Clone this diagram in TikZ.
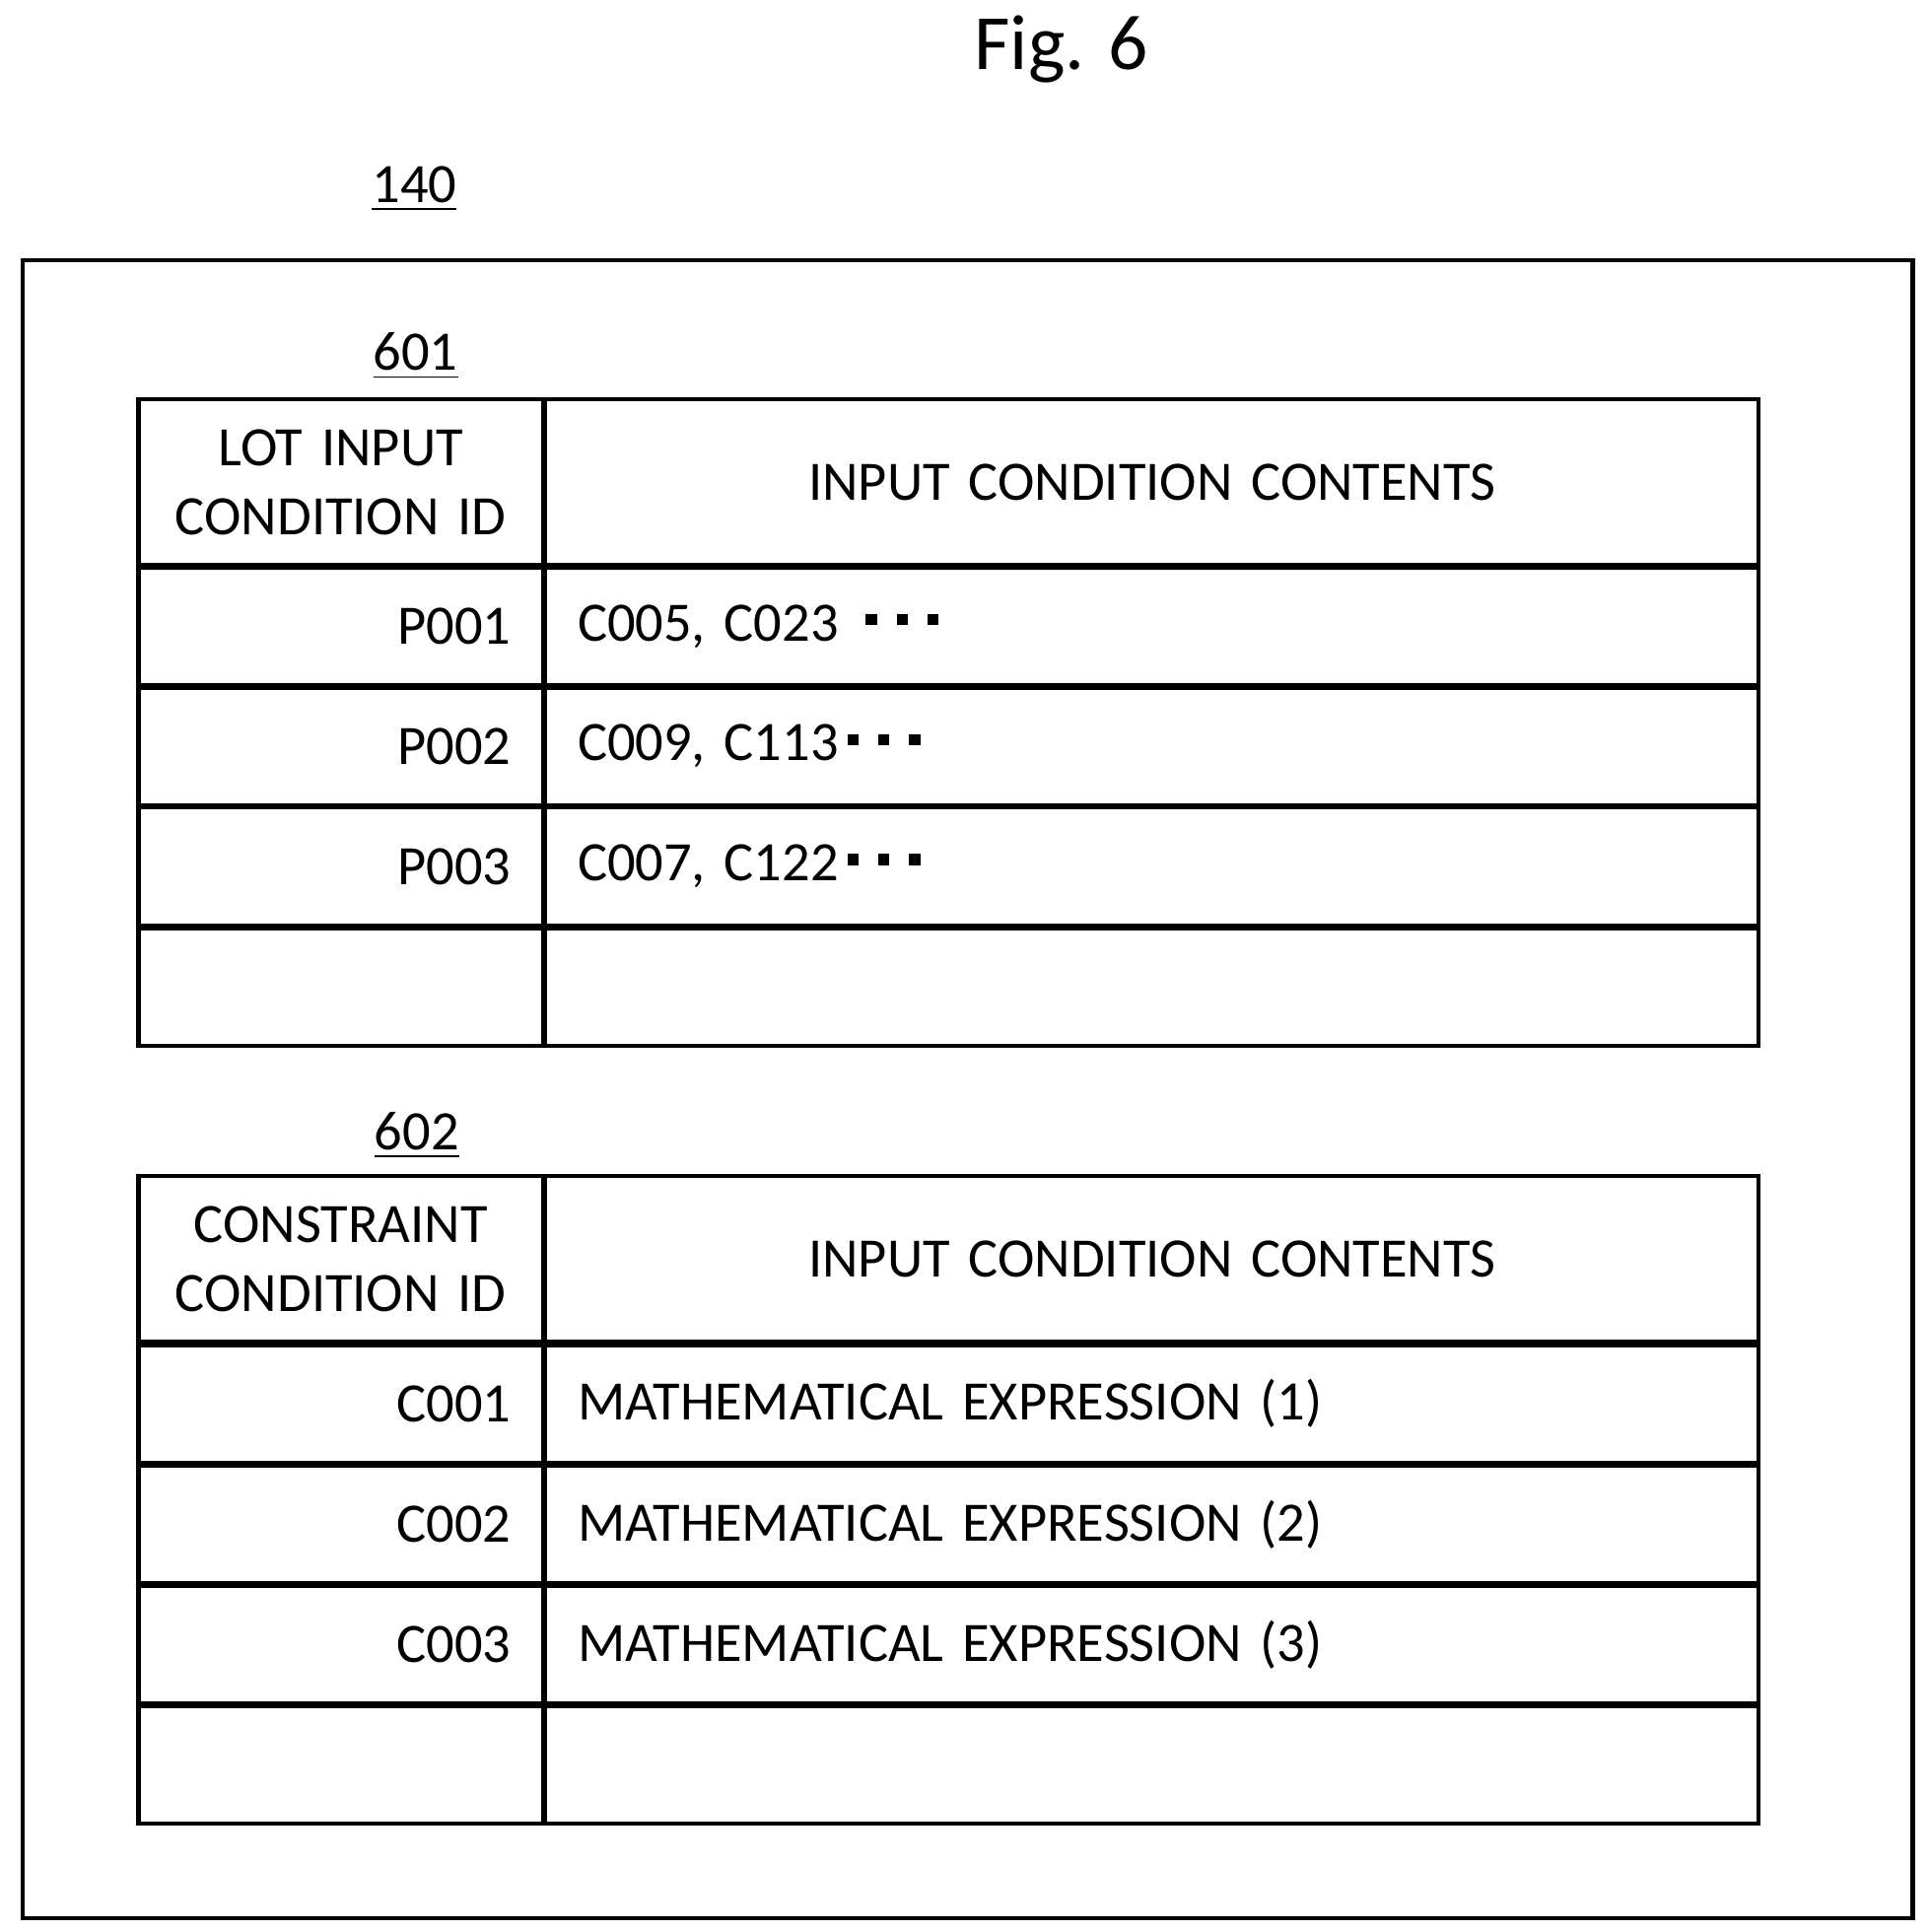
\documentclass[tikz,border=0pt]{standalone}
\usepackage{fontspec}
\setmainfont{Carlito}
\usetikzlibrary{positioning}
\newcommand{\tdot}{\rule[0.28em]{2.6pt}{2.6pt}}
\newcommand{\tdots}{\kern2pt\tdot\kern4.5pt\tdot\kern4.5pt\tdot}

\begin{document}
\begin{tikzpicture}[yscale=-1, font=\fontsize{12.8}{16}\selectfont]
 \tikzstyle{idcell}=[draw, line width=0.95pt, minimum width=3.27cm, inner xsep=0.26cm, text width=2.75cm, align=right]
 \tikzstyle{txtcell}=[draw, line width=0.95pt, minimum width=9.81cm, inner xsep=0.26cm, text width=9.29cm, align=left]
 \tikzstyle{head}=[minimum height=1.34cm]
 \tikzstyle{idhead}=[inner xsep=0.05cm, text width=3.17cm, align=center]
 \tikzstyle{row}=[minimum height=0.95cm]
 \tikzstyle{refnum}=[font=\fontsize{12.8}{16}\selectfont]
 \useasboundingbox (0,0) rectangle (15.6,15.62);
 %
 \node[font=\fontsize{18}{21}\selectfont] (fig) at (8.58, 0.40) {Fig. 6};
 \node[refnum] (n140) at (3.35, 1.53) {\underline{140}};
 \node[draw, line width=0.95pt, minimum width=15.28cm, minimum height=13.40cm] (frame) at (7.825, 8.805) {};
 %
 \node[refnum] (n601) at (3.36, 2.88) {\underline{601}};
 \node[idcell, head, idhead] (h1a) at (2.755, 3.90) {LOT INPUT\\CONDITION ID};
 \node[txtcell, head, align=center] (h1b) at (9.315, 3.90) {INPUT CONDITION CONTENTS};
 \node[idcell, row] (p1a) at (2.755, 5.065) {P001};
 \node[txtcell, row] (p1b) at (9.315, 5.065) {C005, C023 \tdots};
 \node[idcell, row] (p2a) at (2.755, 6.035) {P002};
 \node[txtcell, row] (p2b) at (9.315, 6.035) {C009, C113\tdots};
 \node[idcell, row] (p3a) at (2.755, 7.005) {P003};
 \node[txtcell, row] (p3b) at (9.315, 7.005) {C007, C122\tdots};
 \node[idcell, row] (p4a) at (2.755, 7.98) {};
 \node[txtcell, row] (p4b) at (9.315, 7.98) {};
 %
 \node[refnum] (n602) at (3.37, 9.18) {\underline{602}};
 \node[idcell, head, idhead] (h2a) at (2.755, 10.18) {CONSTRAINT\\CONDITION ID};
 \node[txtcell, head, align=center] (h2b) at (9.315, 10.18) {INPUT CONDITION CONTENTS};
 \node[idcell, row] (c1a) at (2.755, 11.35) {C001};
 \node[txtcell, row] (c1b) at (9.315, 11.35) {MATHEMATICAL EXPRESSION (1)};
 \node[idcell, row] (c2a) at (2.755, 12.325) {C002};
 \node[txtcell, row] (c2b) at (9.315, 12.325) {MATHEMATICAL EXPRESSION (2)};
 \node[idcell, row] (c3a) at (2.755, 13.295) {C003};
 \node[txtcell, row] (c3b) at (9.315, 13.295) {MATHEMATICAL EXPRESSION (3)};
 \node[idcell, row] (c4a) at (2.755, 14.27) {};
 \node[txtcell, row] (c4b) at (9.315, 14.27) {};
\end{tikzpicture}
\end{document}
